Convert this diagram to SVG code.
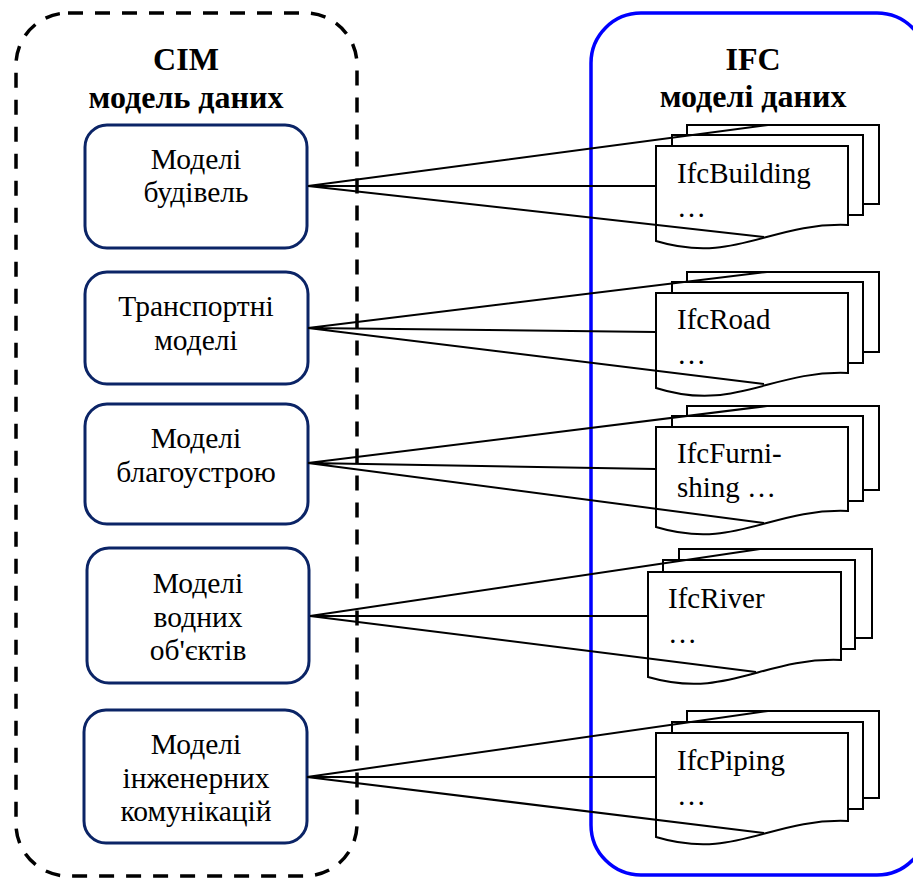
<svg xmlns="http://www.w3.org/2000/svg" width="913" height="878" viewBox="0 0 913 878">
  <style>
    .frame-cim { fill: none; stroke: #000; stroke-width: 3.5; stroke-dasharray: 15 12; }
    .frame-ifc { fill: none; stroke: #0000ff; stroke-width: 3.5; }
    .title { font-family: "Liberation Serif", "Times New Roman", serif; font-weight: bold; font-size: 32px; fill: #000; text-anchor: middle; }
    .box { fill: #fff; stroke: #0b2466; stroke-width: 3; }
    .lbl { font-family: "Liberation Serif", "Times New Roman", serif; font-size: 29.5px; fill: #000; text-anchor: middle; }
    .doc { font-family: "Liberation Serif", "Times New Roman", serif; font-size: 29px; fill: #000; }
    .page { fill: #fff; stroke: #000; stroke-width: 2; }
    .link { fill: none; stroke: #000; stroke-width: 2; }
  </style>

  <!-- containers -->
  <rect class="frame-cim" x="16" y="13" width="341" height="863" rx="52" ry="52"/>
  <rect class="frame-ifc" x="591" y="13" width="336" height="862" rx="50" ry="50"/>

  <text class="title" x="186" y="70">CIM</text>
  <text class="title" x="186" y="108">модель даних</text>
  <text class="title" x="753" y="70">IFC</text>
  <text class="title" x="753" y="107">моделі даних</text>

  <!-- CIM model groups -->
  <g id="cim-buildings">
    <rect class="box" x="85" y="125" width="222" height="123" rx="22" ry="22"/>
    <text class="lbl" x="196" y="169">Моделі</text>
    <text class="lbl" x="196" y="202">будівель</text>
  </g>
  <g id="cim-transport">
    <rect class="box" x="85" y="272" width="223" height="112" rx="22" ry="22"/>
    <text class="lbl" x="196" y="316">Транспортні</text>
    <text class="lbl" x="196" y="350">моделі</text>
  </g>
  <g id="cim-landscaping">
    <rect class="box" x="85" y="404" width="223" height="120" rx="22" ry="22"/>
    <text class="lbl" x="196" y="448">Моделі</text>
    <text class="lbl" x="196" y="482">благоустрою</text>
  </g>
  <g id="cim-water">
    <rect class="box" x="87" y="548" width="222" height="135" rx="22" ry="22"/>
    <text class="lbl" x="198" y="593">Моделі</text>
    <text class="lbl" x="198" y="627">водних</text>
    <text class="lbl" x="198" y="660">об'єктів</text>
  </g>
  <g id="cim-utilities">
    <rect class="box" x="84" y="710" width="223" height="133" rx="22" ry="22"/>
    <text class="lbl" x="196" y="754">Моделі</text>
    <text class="lbl" x="196" y="788">інженерних</text>
    <text class="lbl" x="196" y="821">комунікацій</text>
  </g>

  <!-- IFC document stacks -->
  <g id="ifc-building">
    <rect class="page" x="687" y="125" width="192" height="79"/>
    <rect class="page" x="672" y="135" width="191" height="80"/>
    <path class="page" d="M656,146 H848 V225 C770,222 735,265 656,241 Z"/>
    <text class="doc" x="677" y="183">IfcBuilding</text>
    <text class="doc" x="677" y="217">…</text>
  </g>
  <g id="ifc-road">
    <rect class="page" x="687" y="272" width="192" height="80"/>
    <rect class="page" x="672" y="282" width="191" height="81"/>
    <path class="page" d="M656,293 H848 V373 C770,370 735,413 656,388 Z"/>
    <text class="doc" x="677" y="329">IfcRoad</text>
    <text class="doc" x="677" y="364">…</text>
  </g>
  <g id="ifc-furnishing">
    <rect class="page" x="687" y="406" width="192" height="84"/>
    <rect class="page" x="672" y="416" width="191" height="85"/>
    <path class="page" d="M656,427 H848 V511 C770,508 735,551 656,527 Z"/>
    <text class="doc" x="677" y="463">IfcFurni-</text>
    <text class="doc" x="677" y="497">shing …</text>
  </g>
  <g id="ifc-river">
    <rect class="page" x="679" y="549" width="193" height="89"/>
    <rect class="page" x="663" y="560" width="192" height="89"/>
    <path class="page" d="M648,572 H841 V660 C763,657 727,700 648,677 Z"/>
    <text class="doc" x="668" y="608">IfcRiver</text>
    <text class="doc" x="668" y="643">…</text>
  </g>
  <g id="ifc-piping">
    <rect class="page" x="687" y="711" width="192" height="87"/>
    <rect class="page" x="672" y="722" width="191" height="87"/>
    <path class="page" d="M656,733 H848 V821 C770,818 735,861 656,837 Z"/>
    <text class="doc" x="677" y="770">IfcPiping</text>
    <text class="doc" x="677" y="805">…</text>
  </g>

  <!-- mappings -->
  <g id="connectors" class="link">
    <path d="M308,186 L768,125 M308,186 L656,186 M308,186 L764,237"/>
    <path d="M308,328 L767,272 M308,328 L656,332 M308,328 L764,384"/>
    <path d="M308,463 L767,406 M308,463 L656,469 M308,463 L764,523"/>
    <path d="M310,616 L760,549 M310,616 L648,616 M310,616 L756,672"/>
    <path d="M307,777 L768,711 M307,777 L656,777 M307,777 L764,833"/>
  </g>
</svg>
